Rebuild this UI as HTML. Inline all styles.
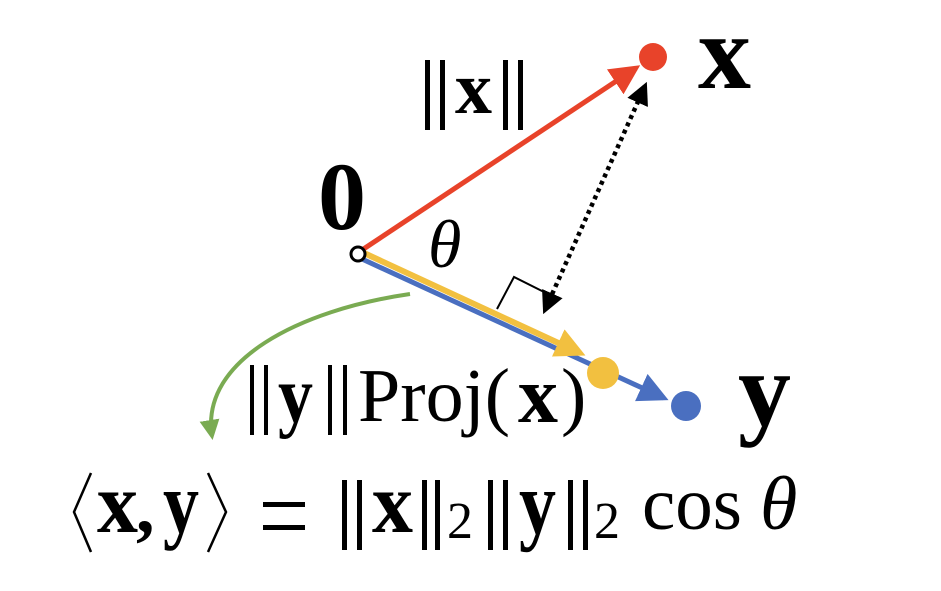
<!DOCTYPE html>
<html><head><meta charset="utf-8"><style>
html,body{margin:0;padding:0;background:#fff;width:941px;height:591px;overflow:hidden}
svg{display:block}
text{font-family:"Liberation Serif","Times New Roman",serif;fill:#000}
.b{font-weight:bold}
.i{font-style:italic}
</style></head><body>
<svg width="941" height="591" viewBox="0 0 941 591">
<defs>
<marker id="ar" markerWidth="6" markerHeight="6" refX="5" refY="3" orient="auto" markerUnits="strokeWidth"><path d="M0,0 L6,3 L0,6 z" fill="#e8432a"/></marker>
<marker id="ab" markerWidth="6" markerHeight="6" refX="5" refY="3" orient="auto" markerUnits="strokeWidth"><path d="M0,0 L6,3 L0,6 z" fill="#4a6fc0"/></marker>
<marker id="ay" markerWidth="5" markerHeight="5" refX="4" refY="2.5" orient="auto" markerUnits="strokeWidth"><path d="M0,0 L5,2.5 L0,5 z" fill="#f2c040"/></marker>
<marker id="ak" markerWidth="5" markerHeight="5" refX="4" refY="2.5" orient="auto-start-reverse" markerUnits="strokeWidth"><path d="M0,0 L5,2.5 L0,5 z" fill="#000"/></marker>
<marker id="ag" markerWidth="5" markerHeight="5" refX="4" refY="2.5" orient="auto" markerUnits="strokeWidth"><path d="M0,0 L5,2.5 L0,5 z" fill="#7aab52"/></marker>
</defs>
<line x1="362" y1="250" x2="636" y2="68" stroke="#e8432a" stroke-width="5" marker-end="url(#ar)"/>
<circle cx="653" cy="57" r="14" fill="#e8432a"/>
<line x1="362" y1="259" x2="664" y2="398" stroke="#4a6fc0" stroke-width="5" marker-end="url(#ab)"/>
<circle cx="686" cy="406" r="15" fill="#4a6fc0"/>
<line x1="364" y1="253" x2="580" y2="353" stroke="#f2c040" stroke-width="6" marker-end="url(#ay)"/>
<circle cx="603" cy="373" r="16" fill="#f2c040"/>
<circle cx="358" cy="254" r="7" fill="#fff" stroke="#000" stroke-width="3"/>
<line x1="645" y1="86" x2="545" y2="310" stroke="#000" stroke-width="4.5" stroke-dasharray="4,4" marker-end="url(#ak)" marker-start="url(#ak)"/>
<polyline points="497,309 514,277 548,294" fill="none" stroke="#000" stroke-width="2"/>
<path d="M410,294 C300,310 200,360 212,436" fill="none" stroke="#7aab52" stroke-width="4" marker-end="url(#ag)"/>

<text x="318" y="229" font-size="96" class="b">0</text>
<text x="698" y="88" font-size="106" class="b">x</text>
<text x="738" y="425" font-size="106" class="b">y</text>

<g>
<rect x="425" y="60" width="5" height="70"/><rect x="440" y="60" width="5" height="70"/>
<text x="455" y="113" font-size="74" class="b">x</text>
<rect x="503" y="60" width="5" height="70"/><rect x="518" y="60" width="5" height="70"/>
</g>
<text x="428" y="267" font-size="68" class="i">θ</text>

<g>
<rect x="250" y="365" width="4" height="70"/><rect x="264" y="365" width="4" height="70"/>
<text transform="translate(278,422) scale(1,1.15)" font-size="70" class="b">y</text>
<rect x="328" y="365" width="4" height="70"/><rect x="343" y="365" width="4" height="70"/>
<text x="358" y="421" font-size="76">Proj(</text>
<text x="518" y="422" font-size="80" class="b">x</text>
<text x="561" y="421" font-size="76">)</text>
</g>

<g>
<polyline points="91,473 74,512 91,552" fill="none" stroke="#000" stroke-width="2.5"/>
<text transform="translate(97,532) scale(1,1.05)" font-size="82" class="b">x</text>
<text transform="translate(136,532)" font-size="74" class="b">,</text>
<text transform="translate(163,532) scale(1,1.2)" font-size="72" class="b">y</text>
<polyline points="208,473 226,512 208,552" fill="none" stroke="#000" stroke-width="2.5"/>
<rect x="263" y="502" width="42" height="5"/><rect x="263" y="525" width="42" height="5"/>
<rect x="342" y="480" width="5" height="70"/><rect x="357" y="480" width="5" height="70"/>
<text transform="translate(372,532) scale(1,1.05)" font-size="82" class="b">x</text>
<rect x="422" y="480" width="5" height="70"/><rect x="435" y="480" width="5" height="70"/>
<text x="447" y="538" font-size="52">2</text>
<rect x="488" y="480" width="5" height="70"/><rect x="503" y="480" width="5" height="70"/>
<text transform="translate(519,533) scale(1,1.2)" font-size="74" class="b">y</text>
<rect x="568" y="480" width="5" height="70"/><rect x="583" y="480" width="5" height="70"/>
<text x="594" y="538" font-size="52">2</text>
<text x="642" y="529" font-size="75">cos</text>
<text x="760" y="529" font-size="76" class="i">θ</text>
</g>
</svg>
</body></html>
